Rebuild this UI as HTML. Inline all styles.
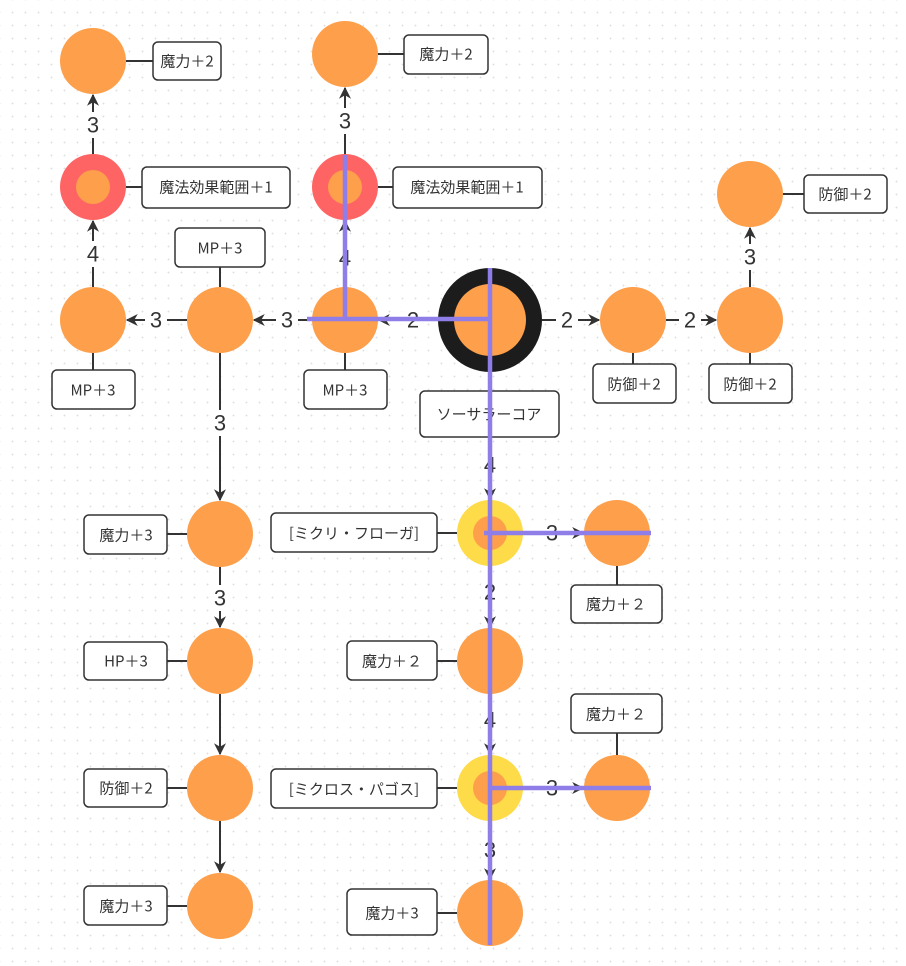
<!DOCTYPE html>
<html><head><meta charset="utf-8"><style>
html,body{margin:0;padding:0;background:#fff;}
body{width:906px;height:966px;overflow:hidden;
background-image:radial-gradient(circle,#dedede 0.7px,transparent 1.1px);background-size:13px 13px;background-position:6px 6px;}
svg{position:absolute;left:0;top:0;}
text{font-family:"Liberation Sans","Noto Sans CJK JP",sans-serif;fill:#333;}
.bx{fill:#fff;stroke:#333;stroke-width:1.5;}
.bt{font-size:15px;text-anchor:middle;dominant-baseline:central;font-family:"Noto Sans CJK JP",sans-serif;}
.ln{stroke:#333;stroke-width:2;fill:none;}
.el{font-size:22px;text-anchor:middle;dominant-baseline:central;}
.o{fill:#fd9f4b;}
.p{stroke:#8f7ee8;stroke-width:4.5;}
</style></head><body>
<svg width="906" height="966" viewBox="0 0 906 966">
<defs><marker id="a" viewBox="0 0 10 10" refX="9" refY="5" markerWidth="6" markerHeight="6" orient="auto"><path d="M0,0L10,5L0,10L3,5z" fill="#333"/></marker></defs>

<g class="ln">
<line x1="126" y1="61" x2="153" y2="61"/>
<line x1="378" y1="54" x2="404" y2="54"/>
<line x1="126" y1="187" x2="142" y2="187"/>
<line x1="378" y1="187" x2="393" y2="187"/>
<line x1="783" y1="194" x2="804" y2="194"/>
<line x1="220" y1="267" x2="220" y2="287"/>
<line x1="93" y1="353" x2="93" y2="370"/>
<line x1="345" y1="353" x2="345" y2="370"/>
<line x1="633" y1="353" x2="633" y2="364"/>
<line x1="750" y1="353" x2="750" y2="364"/>
<line x1="167" y1="534" x2="187" y2="534"/>
<line x1="167" y1="661" x2="187" y2="661"/>
<line x1="167" y1="788" x2="187" y2="788"/>
<line x1="167" y1="906" x2="187" y2="906"/>
<line x1="437" y1="533" x2="457" y2="533"/>
<line x1="437" y1="661" x2="457" y2="661"/>
<line x1="437" y1="788" x2="457" y2="788"/>
<line x1="437" y1="913" x2="457" y2="913"/>
<line x1="617" y1="566" x2="617" y2="585"/>
<line x1="617" y1="733" x2="617" y2="755"/>
</g>

<g class="ln" marker-end="url(#a)">
<line x1="93" y1="287" x2="93" y2="221"/>
<line x1="93" y1="154" x2="93" y2="95"/>
<line x1="345" y1="287" x2="345" y2="221"/>
<line x1="345" y1="154" x2="345" y2="88"/>
<line x1="438" y1="320" x2="379" y2="320"/>
<line x1="312" y1="320" x2="254" y2="320"/>
<line x1="187" y1="320" x2="127" y2="320"/>
<line x1="542" y1="320" x2="599" y2="320"/>
<line x1="666" y1="320" x2="716" y2="320"/>
<line x1="750" y1="287" x2="750" y2="228"/>
<line x1="220" y1="353" x2="220" y2="500"/>
<line x1="220" y1="567" x2="220" y2="627"/>
<line x1="220" y1="694" x2="220" y2="754"/>
<line x1="220" y1="821" x2="220" y2="872"/>
<line x1="490" y1="372" x2="490" y2="499"/>
<line x1="490" y1="566" x2="490" y2="627"/>
<line x1="490" y1="694" x2="490" y2="754"/>
<line x1="490" y1="821" x2="490" y2="879"/>
<line x1="523" y1="533" x2="583" y2="533"/>
<line x1="523" y1="788" x2="583" y2="788"/>
</g>

<g>
<rect x="84" y="241" width="18" height="26" fill="#fff"/><text class="el" x="93" y="254">4</text>
<rect x="84" y="112" width="18" height="26" fill="#fff"/><text class="el" x="93" y="125">3</text>
<rect x="336" y="245" width="18" height="26" fill="#fff"/><text class="el" x="345" y="258">4</text>
<rect x="336" y="108" width="18" height="26" fill="#fff"/><text class="el" x="345" y="121">3</text>
<rect x="402" y="308" width="22" height="24" fill="#fff"/><text class="el" x="413" y="320">2</text>
<rect x="276" y="308" width="22" height="24" fill="#fff"/><text class="el" x="287" y="320">3</text>
<rect x="145" y="308" width="22" height="24" fill="#fff"/><text class="el" x="156" y="320">3</text>
<rect x="556" y="308" width="22" height="24" fill="#fff"/><text class="el" x="567" y="320">2</text>
<rect x="679" y="308" width="22" height="24" fill="#fff"/><text class="el" x="690" y="320">2</text>
<rect x="741" y="244" width="18" height="26" fill="#fff"/><text class="el" x="750" y="257">3</text>
<rect x="211" y="410" width="18" height="26" fill="#fff"/><text class="el" x="220" y="423">3</text>
<rect x="211" y="585" width="18" height="26" fill="#fff"/><text class="el" x="220" y="598">3</text>
<rect x="481" y="452" width="18" height="26" fill="#fff"/><text class="el" x="490" y="465">4</text>
<rect x="481" y="579" width="18" height="26" fill="#fff"/><text class="el" x="490" y="592">2</text>
<rect x="481" y="707" width="18" height="26" fill="#fff"/><text class="el" x="490" y="720">4</text>
<rect x="481" y="837" width="18" height="26" fill="#fff"/><text class="el" x="490" y="850">3</text>
<rect x="541" y="521" width="22" height="24" fill="#fff"/><text class="el" x="552" y="533">3</text>
<rect x="541" y="776" width="22" height="24" fill="#fff"/><text class="el" x="552" y="788">3</text>
</g>

<g>
<circle class="o" cx="93" cy="61" r="33"/>
<circle class="o" cx="345" cy="54" r="33"/>
<circle cx="93" cy="187" r="33" fill="#fe6464"/><circle class="o" cx="93" cy="187" r="17"/>
<circle cx="345" cy="187" r="33" fill="#fe6464"/><circle class="o" cx="345" cy="187" r="17"/>
<circle class="o" cx="750" cy="194" r="33"/>
<circle class="o" cx="93" cy="320" r="33"/>
<circle class="o" cx="220" cy="320" r="33"/>
<circle class="o" cx="345" cy="320" r="33"/>
<circle cx="490" cy="320" r="52" fill="#1c1c1c"/><circle class="o" cx="490" cy="320" r="36"/>
<circle class="o" cx="633" cy="320" r="33"/>
<circle class="o" cx="750" cy="320" r="33"/>
<circle class="o" cx="220" cy="534" r="33"/>
<circle class="o" cx="220" cy="661" r="33"/>
<circle class="o" cx="220" cy="788" r="33"/>
<circle class="o" cx="220" cy="906" r="33"/>
<circle cx="490" cy="533" r="33" fill="#fedb48"/><circle class="o" cx="490" cy="533" r="17"/>
<circle class="o" cx="490" cy="661" r="33"/>
<circle cx="490" cy="788" r="33" fill="#fedb48"/><circle class="o" cx="490" cy="788" r="17"/>
<circle class="o" cx="490" cy="913" r="33"/>
<circle class="o" cx="617" cy="533" r="33"/>
<circle class="o" cx="617" cy="788" r="33"/>
</g>

<g>
<rect class="bx" x="153" y="42" width="68" height="38" rx="5"/><text class="bt" x="187" y="61">魔力＋2</text>
<rect class="bx" x="404" y="35" width="84" height="39" rx="5"/><text class="bt" x="446" y="54">魔力＋2</text>
<rect class="bx" x="142" y="167" width="148" height="41" rx="5"/><text class="bt" x="216" y="187">魔法効果範囲＋1</text>
<rect class="bx" x="393" y="167" width="149" height="41" rx="5"/><text class="bt" x="467" y="187">魔法効果範囲＋1</text>
<rect class="bx" x="804" y="175" width="83" height="38" rx="5"/><text class="bt" x="845" y="194">防御＋2</text>
<rect class="bx" x="175" y="228" width="90" height="39" rx="5"/><text class="bt" x="220" y="248">MP＋3</text>
<rect class="bx" x="52" y="370" width="83" height="39" rx="5"/><text class="bt" x="93" y="390">MP＋3</text>
<rect class="bx" x="304" y="370" width="83" height="39" rx="5"/><text class="bt" x="345" y="390">MP＋3</text>
<rect class="bx" x="593" y="364" width="83" height="39" rx="5"/><text class="bt" x="634" y="384">防御＋2</text>
<rect class="bx" x="709" y="364" width="83" height="39" rx="5"/><text class="bt" x="750" y="384">防御＋2</text>
<rect class="bx" x="420" y="391" width="139" height="46" rx="5"/><text class="bt" x="489" y="414">ソーサラーコア</text>
<rect class="bx" x="84" y="515" width="83" height="39" rx="5"/><text class="bt" x="126" y="535">魔力＋3</text>
<rect class="bx" x="84" y="642" width="83" height="38" rx="5"/><text class="bt" x="126" y="661">HP＋3</text>
<rect class="bx" x="84" y="769" width="83" height="38" rx="5"/><text class="bt" x="126" y="788">防御＋2</text>
<rect class="bx" x="84" y="886" width="83" height="39" rx="5"/><text class="bt" x="126" y="906">魔力＋3</text>
<rect class="bx" x="271" y="513" width="166" height="39" rx="5"/><text class="bt" x="354" y="533">[ミクリ・フローガ]</text>
<rect class="bx" x="571" y="585" width="91" height="38" rx="5"/><text class="bt" x="616" y="604">魔力＋２</text>
<rect class="bx" x="347" y="641" width="90" height="39" rx="5"/><text class="bt" x="392" y="661">魔力＋２</text>
<rect class="bx" x="571" y="694" width="91" height="39" rx="5"/><text class="bt" x="616" y="714">魔力＋２</text>
<rect class="bx" x="271" y="769" width="166" height="39" rx="5"/><text class="bt" x="354" y="789">[ミクロス・パゴス]</text>
<rect class="bx" x="347" y="889" width="90" height="46" rx="5"/><text class="bt" x="392" y="913">魔力＋3</text>
</g>

<g class="p">
<line x1="490" y1="268" x2="490" y2="945"/>
<line x1="307" y1="319" x2="490" y2="319"/>
<line x1="345" y1="155" x2="345" y2="321"/>
<line x1="484" y1="533" x2="651" y2="533"/>
<line x1="490" y1="788" x2="651" y2="788"/>
</g>
</svg>
</body></html>
